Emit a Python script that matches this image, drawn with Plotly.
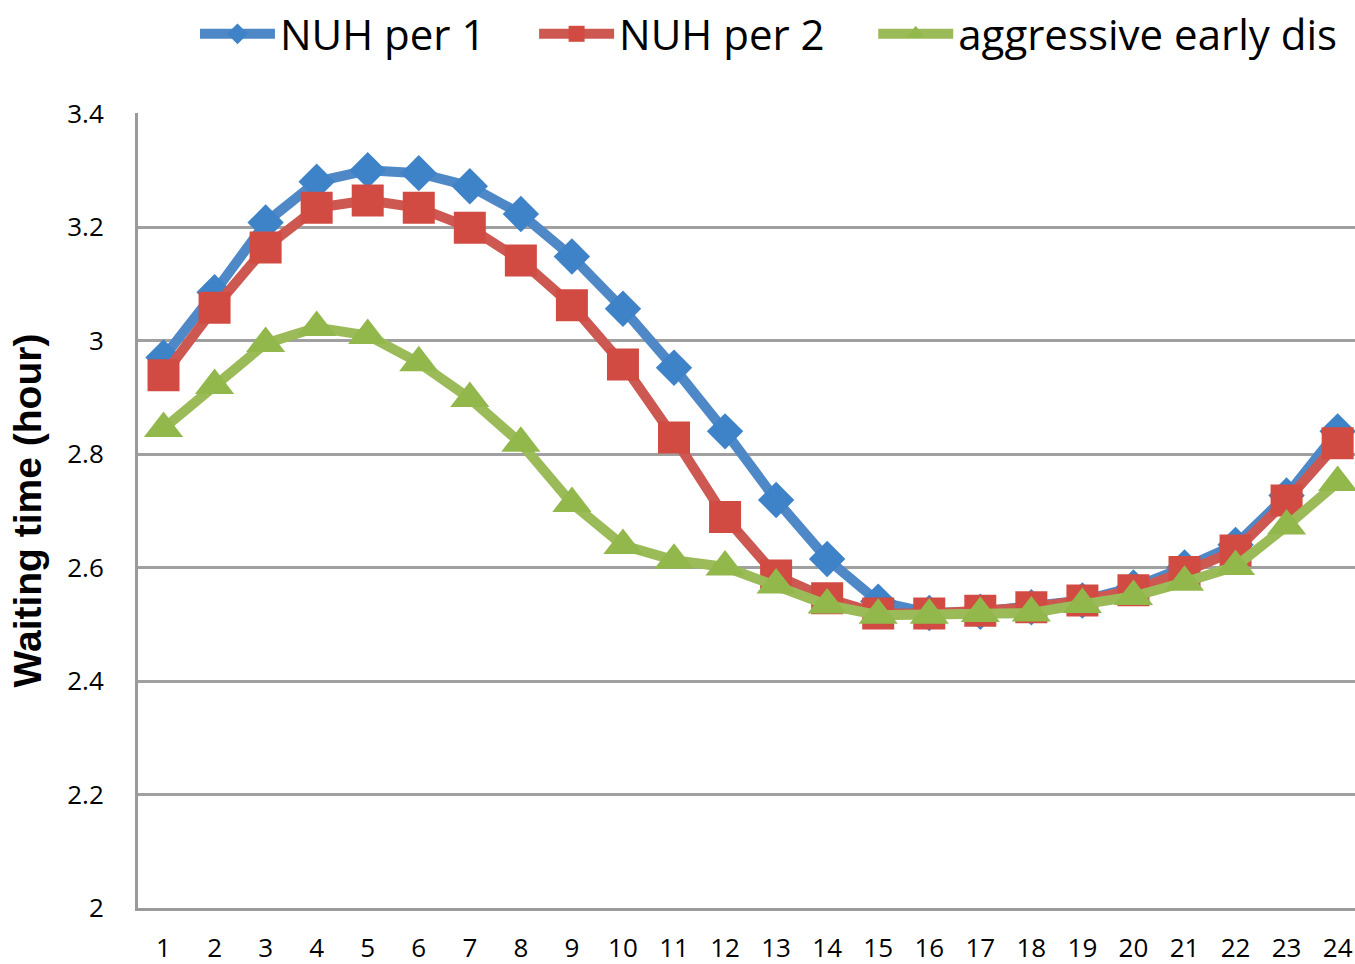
import plotly.graph_objects as go

# Hour of day (category axis)
hours = list(range(1, 25))

# Average waiting time (hours) per policy
nuh_per_1 = [2.97, 3.085, 3.208, 3.28, 3.30, 3.295, 3.272, 3.223, 3.148, 3.056,
             2.952, 2.84, 2.719, 2.615, 2.54, 2.52, 2.522, 2.53, 2.542, 2.565,
             2.60, 2.64, 2.727, 2.84]
nuh_per_2 = [2.939, 3.058, 3.164, 3.234, 3.247, 3.234, 3.199, 3.141, 3.062, 2.958,
             2.829, 2.689, 2.586, 2.546, 2.519, 2.519, 2.524, 2.53, 2.542, 2.56,
             2.592, 2.63, 2.718, 2.819]
aggressive = [2.845, 2.921, 2.995, 3.023, 3.009, 2.961, 2.898, 2.819, 2.713, 2.639,
              2.613, 2.601, 2.569, 2.534, 2.516, 2.516, 2.519, 2.52, 2.535, 2.549,
              2.574, 2.602, 2.673, 2.75]

y_ticks = [2, 2.2, 2.4, 2.6, 2.8, 3, 3.2, 3.4]
y_tick_text = ["2", "2.2", "2.4", "2.6", "2.8", "3", "3.2", "3.4"]

FONT = "Open Sans, Liberation Sans, sans-serif"
TITLE_FONT = "Liberation Sans Narrow, Arial Narrow, sans-serif"

# non-breaking padding keeps wider gaps between legend entries
PAD = "\u00a0" * 4

series = [
    ("NUH per 1" + PAD, nuh_per_1, "#4F88C6", "#3E82C8", "diamond", 28),
    ("NUH per 2" + PAD, nuh_per_2, "#CD5751", "#D24B43", "square", 32),
    ("aggressive early dis", aggressive, "#9BBB59", "#92B84C", "triangle-up", 34),
]

fig = go.Figure()
for name, vals, line_col, mk_col, sym, size in series:
    fig.add_trace(go.Scatter(
        x=hours, y=vals, name=name, mode="lines+markers",
        line=dict(color=line_col, width=10),
        marker=dict(symbol=sym, size=size, color=mk_col,
                    line=dict(width=0)),
        cliponaxis=True,
    ))

fig.update_layout(
    width=1355, height=964,
    margin=dict(l=138, r=0, t=113, b=56),
    paper_bgcolor="white", plot_bgcolor="white",
    font=dict(family=FONT, color="black"),
    showlegend=True,
    legend=dict(
        orientation="h", xref="container", yref="container",
        x=0.5675, xanchor="center", y=1.0, yanchor="top",
        font=dict(size=42, family=FONT, color="black"),
        itemwidth=75, traceorder="normal",
        bgcolor="rgba(0,0,0,0)",
    ),
    xaxis=dict(
        type="linear", range=[0.5, 24.34],
        tickmode="array", tickvals=hours, ticktext=[str(h) for h in hours],
        tickfont=dict(size=26, family=FONT),
        showgrid=False, zeroline=False,
        showline=True, linecolor="#9A9A9A", linewidth=3,
        ticks="", ticklabelstandoff=15, automargin=False,
    ),
    yaxis=dict(
        range=[2, 3.401],
        tickmode="array", tickvals=y_ticks, ticktext=y_tick_text,
        tickfont=dict(size=26, family=FONT),
        showgrid=True, gridcolor="#A0A0A0", gridwidth=2.5,
        zeroline=False,
        showline=True, linecolor="#9A9A9A", linewidth=3,
        ticks="", ticklabelstandoff=26,
        title=dict(text="<b>Waiting time (hour)</b>",
                   font=dict(size=39, family=TITLE_FONT), standoff=14),
        automargin=False,
    ),
)

fig.write_html("out.html")
